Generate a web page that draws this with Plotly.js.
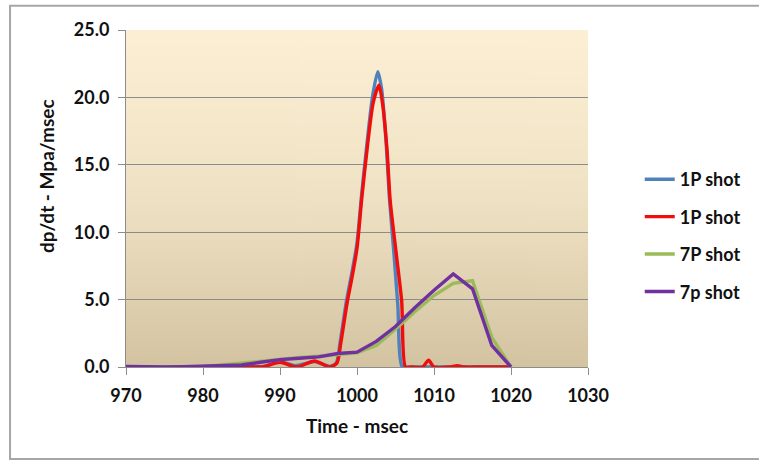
<!DOCTYPE html>
<html>
<head>
<meta charset="utf-8">
<script src="https://cdn.plot.ly/plotly-3.0.1.min.js"></script>
<style>
  html, body { margin: 0; padding: 0; background: #ffffff; overflow: hidden; }
  #chart { width: 763px; height: 462px; }
</style>
</head>
<body>
<div id="chart"></div>
<script>
// ---- Data ----
const seriesNames = ["1P shot", "1P shot", "7P shot", "7p shot"];

const blueX = [970, 975, 980, 985, 987, 988, 990, 992, 994.5, 996.5, 997.3, 997.8, 998.6, 999.4, 1000, 1000.6, 1001.3, 1002.0, 1002.7, 1003.2, 1003.8, 1004.2, 1004.8, 1005.3, 1005.9, 1007, 1010, 1015, 1020];
const blueY = [0, 0, 0, 0, 0, 0.05, 0.4, 0.1, 0.4, 0.05, 0.3, 1.8, 4.8, 7.2, 9.2, 12.8, 16.6, 20.0, 21.9, 20.6, 16.5, 12.6, 8.4, 4.6, 0, 0, 0, 0, 0];

const redX = [970, 975, 980, 985, 987, 988, 990, 992.2, 994.5, 996.5, 997.4, 997.9, 998.7, 999.4, 1000, 1000.6, 1001.3, 1002.1, 1002.85, 1003.3, 1003.9, 1004.3, 1005.1, 1005.8, 1006.3, 1007, 1008.5, 1009.3, 1010, 1012, 1013, 1014, 1016, 1020];
const redY = [0, 0, 0, 0, 0, 0.05, 0.35, 0, 0.45, 0, 0.3, 1.8, 4.7, 6.8, 8.8, 12.4, 16.1, 19.6, 20.9, 19.6, 16.1, 12.4, 8.4, 4.9, 0, 0, 0, 0.5, 0, 0, 0.1, 0, 0, 0];

const greenX = [970, 972.5, 975, 977.5, 980, 982.5, 985, 987.5, 990, 992.5, 995, 997.5, 1000, 1002.5, 1005, 1007.5, 1010, 1012.5, 1015, 1017.5, 1020];
const greenY = [0, 0, 0, 0.02, 0.05, 0.15, 0.3, 0.45, 0.6, 0.7, 0.8, 0.95, 1.05, 1.6, 2.8, 4.1, 5.3, 6.2, 6.4, 2.2, 0];

const purpleX = [970, 972.5, 975, 977.5, 980, 982.5, 985, 987.5, 990, 992.5, 995, 997.5, 1000, 1002.5, 1005, 1007.5, 1010, 1012.5, 1015, 1017.5, 1020];
const purpleY = [0.05, 0, 0, 0.02, 0.05, 0.08, 0.15, 0.35, 0.55, 0.65, 0.75, 1.0, 1.1, 1.9, 3.0, 4.4, 5.7, 6.9, 5.8, 1.6, 0];

const xTicks = [970, 980, 990, 1000, 1010, 1020, 1030];
const yTicks = [0, 5, 10, 15, 20, 25];

// ---- Styling ----
const colors = ["#4F81BD", "#F20D0D", "#9BBB59", "#7030A0"];
const FONT = "Lato, 'Open Sans', sans-serif";

function gradientURL() {
  const c = document.createElement("canvas");
  c.width = 4; c.height = 256;
  const g = c.getContext("2d");
  const grd = g.createLinearGradient(0, 0, 0, 256);
  grd.addColorStop(0, "#FDEFD4");
  grd.addColorStop(0.5, "#EFE2C4");
  grd.addColorStop(1, "#D3C3A1");
  g.fillStyle = grd;
  g.fillRect(0, 0, 4, 256);
  return c.toDataURL("image/png");
}

const xs = [blueX, redX, greenX, purpleX];
const ys = [blueY, redY, greenY, purpleY];
const shapes = ["spline", "spline", "linear", "linear"];

const traces = xs.map((x, i) => ({
  type: "scatter",
  mode: "lines",
  x: x,
  y: ys[i],
  name: seriesNames[i],
  legendgroup: "g" + i,
  line: { color: colors[i], width: 3.4, shape: shapes[i], smoothing: 0.7 },
  hoverinfo: "x+y+name"
}));

const layout = {
  width: 763,
  height: 462,
  margin: { l: 126, r: 175, t: 30, b: 95 },
  paper_bgcolor: "#ffffff",
  plot_bgcolor: "rgba(0,0,0,0)",
  font: { family: FONT, size: 18, color: "#111111", weight: "bold" },
  xaxis: {
    range: [970, 1030],
    tickvals: xTicks,
    ticktext: xTicks.map(String),
    ticks: "outside",
    ticklen: 7,
    tickcolor: "#8C8C8C",
    ticklabelstandoff: 5,
    showline: true,
    linecolor: "#8C8C8C",
    linewidth: 1,
    showgrid: false,
    zeroline: false,
    tickfont: { family: FONT, size: 18, color: "#111111", weight: "bold" },
    title: { text: "Time - msec", font: { family: FONT, size: 19, color: "#111111", weight: "bold" }, standoff: 15 }
  },
  yaxis: {
    range: [0, 25],
    tickvals: yTicks,
    ticktext: yTicks.map(v => v.toFixed(1)),
    ticks: "outside",
    ticklen: 7,
    tickcolor: "#8C8C8C",
    ticklabelstandoff: 5,
    showline: true,
    linecolor: "#8C8C8C",
    linewidth: 1,
    showgrid: true,
    gridcolor: "#8C8C8C",
    gridwidth: 1,
    zeroline: false,
    tickfont: { family: FONT, size: 18, color: "#111111", weight: "bold" }
  },
  annotations: [{
    text: "dp/dt - Mpa/msec",
    xref: "paper", yref: "paper",
    x: -0.171, y: 0.567,
    xanchor: "center", yanchor: "middle",
    textangle: -90,
    showarrow: false,
    font: { family: FONT, size: 19, color: "#111111", weight: "bold" }
  }],
  legend: {
    x: 1.112, y: 0.39,
    xanchor: "left", yanchor: "middle",
    traceorder: "grouped",
    tracegroupgap: 11,
    bgcolor: "rgba(0,0,0,0)",
    font: { family: FONT, size: 18, color: "#111111", weight: "bold" }
  },
  images: [{
    source: gradientURL(),
    xref: "paper", yref: "paper",
    x: 0, y: 1, sizex: 1, sizey: 1,
    xanchor: "left", yanchor: "top",
    sizing: "stretch",
    layer: "below"
  }],
  shapes: [{
    type: "path",
    xref: "paper", yref: "paper",
    path: "M 1.37 1.072 L -0.251 1.072 L -0.251 -0.273 L 1.37 -0.273",
    line: { color: "#A6A6A6", width: 2 },
    layer: "below"
  }],
  showlegend: true
};

Plotly.newPlot("chart", traces, layout, { displayModeBar: false, staticPlot: true });
</script>
</body>
</html>
